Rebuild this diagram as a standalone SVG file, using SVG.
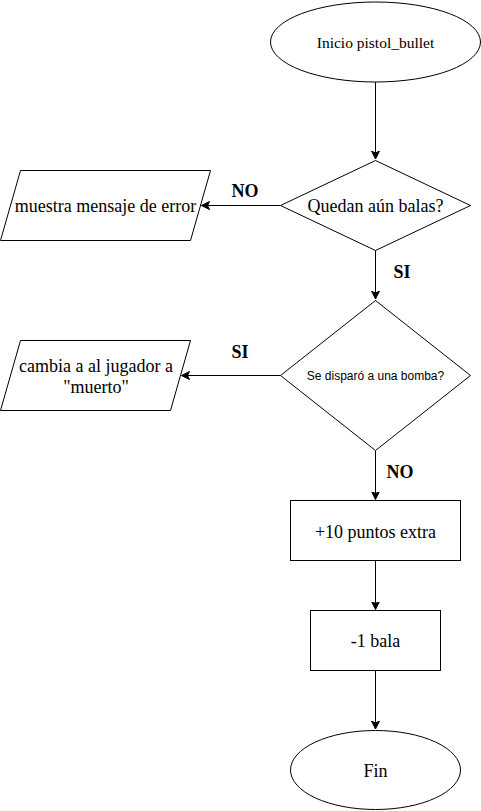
<svg xmlns="http://www.w3.org/2000/svg" width="481" height="811" viewBox="0 0 481 811">
<style>
.s{fill:#fff;stroke:#000;stroke-width:1}
.t{font-family:"Liberation Serif","Times New Roman",serif;font-size:18px;fill:#000;text-anchor:middle}
.ts{font-family:"Liberation Sans",Arial,sans-serif;font-size:12px;fill:#000;text-anchor:middle}
.lb{font-family:"Liberation Serif","Times New Roman",serif;font-size:18px;font-weight:bold;fill:#000;text-anchor:middle}
.e{fill:none;stroke:#000;stroke-width:1}
</style>
<defs>
<marker id="arr" markerUnits="userSpaceOnUse" markerWidth="10" markerHeight="10" viewBox="0 0 10 10" refX="8" refY="4" orient="auto">
<path d="M0,0 L8,4 L0,8 L2,4 Z" fill="#000" stroke="#000" stroke-width="1"/>
</marker>
</defs>
<rect width="481" height="811" fill="#fff"/>
<g id="edges">
<path class="e" d="M375.5,82 L375.5,159" marker-end="url(#arr)"/>
<path class="e" d="M280.5,205.5 L201.5,205.5" marker-end="url(#arr)"/>
<path class="e" d="M375.5,250.5 L375.5,299" marker-end="url(#arr)"/>
<path class="e" d="M280.5,375.5 L181.5,375.5" marker-end="url(#arr)"/>
<path class="e" d="M375.5,450.5 L375.5,499.5" marker-end="url(#arr)"/>
<path class="e" d="M375.5,560.5 L375.5,609.5" marker-end="url(#arr)"/>
<path class="e" d="M375.5,670.5 L375.5,729" marker-end="url(#arr)"/>
<text class="lb" x="245" y="197">NO</text>
<text class="lb" x="402" y="278">SI</text>
<text class="lb" x="240" y="358">SI</text>
<text class="lb" x="400" y="478">NO</text>
</g>
<g id="start">
<ellipse class="s" cx="375.5" cy="42" rx="105" ry="40"/>
<text class="t" x="375.5" y="47.5" style="font-size:15.5px">Inicio pistol_bullet</text>
</g>
<g id="d1">
<path class="s" d="M375.5,160.5 L470.5,205.5 L375.5,250.5 L280.5,205.5 Z"/>
<text class="t" x="375.5" y="212">Quedan aún balas?</text>
</g>
<g id="err">
<path class="s" d="M0.5,240.5 L20.5,170.5 L210.5,170.5 L190.5,240.5 Z"/>
<text class="t" x="105.5" y="212">muestra mensaje de error</text>
</g>
<g id="d2">
<path class="s" d="M375.5,300.5 L470.5,375.5 L375.5,450.5 L280.5,375.5 Z"/>
<text class="ts" x="375.5" y="379.5">Se disparó a una bomba?</text>
</g>
<g id="dead">
<path class="s" d="M0.5,410.5 L20.5,340.5 L190.5,340.5 L170.5,410.5 Z"/>
<text class="t" x="96" y="372">cambia a al jugador a</text>
<text class="t" x="96" y="393">"muerto"</text>
</g>
<g id="pts">
<rect class="s" x="290.5" y="500.5" width="170" height="60"/>
<text class="t" x="375.5" y="537.5">+10 puntos extra</text>
</g>
<g id="bala">
<rect class="s" x="310.5" y="610.5" width="130" height="60"/>
<text class="t" x="375.5" y="646.5">-1 bala</text>
</g>
<g id="fin">
<ellipse class="s" cx="375.5" cy="770" rx="85" ry="39.5"/>
<text class="t" x="375.5" y="776.5">Fin</text>
</g>
</svg>
